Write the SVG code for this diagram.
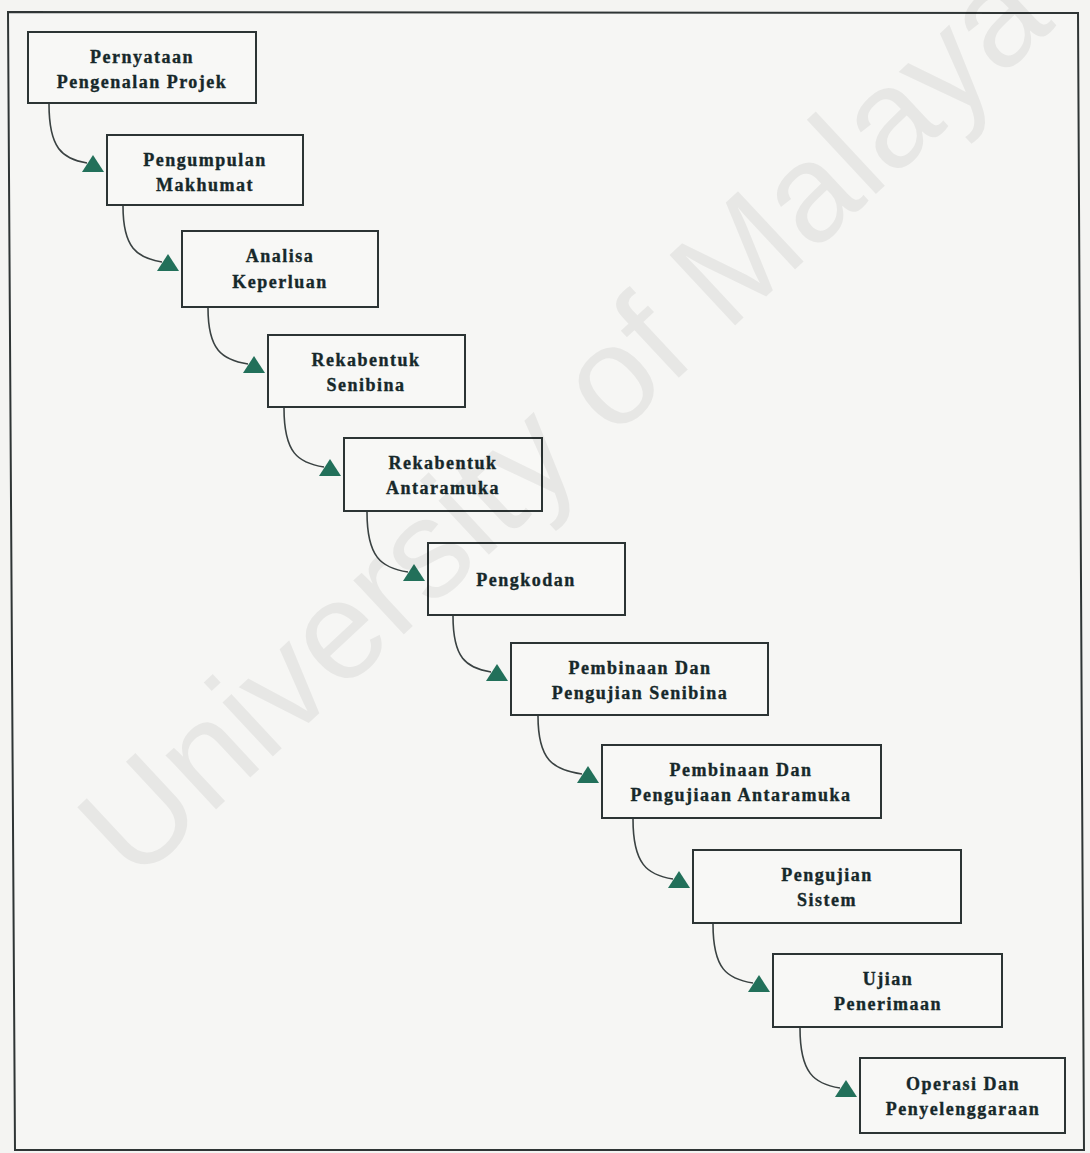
<svg xmlns="http://www.w3.org/2000/svg" width="1090" height="1153" viewBox="0 0 1090 1153">
  <style>
    .box { fill: #f8f8f6; stroke: #2c3434; stroke-width: 2; }
    .lbl { font-family: "Liberation Serif", "Times New Roman", serif; font-weight: bold; font-size: 18px; letter-spacing: 1.5px; fill: #16282a; stroke: #16282a; stroke-width: 0.35; text-anchor: middle; }
    .wire { fill: none; stroke: #3a4242; stroke-width: 1.6; }
    .head { fill: #22705a; }
    .mark { font-family: "Liberation Sans", Arial, sans-serif; font-size: 140px; fill: #000; fill-opacity: 0.06; }
  </style>

  <!-- page and outer frame -->
  <rect x="0" y="0" width="1090" height="1153" fill="#f4f4f2"/>
  <polygon points="8,12 1078,13 1084,1150 15,1150" fill="#f6f6f4" stroke="#2f3535" stroke-width="2"/>

  <!-- process steps -->
  <g id="node-pernyataan">
    <rect class="box" x="28" y="32" width="228" height="71"/>
    <text class="lbl" x="142" y="63">Pernyataan</text>
    <text class="lbl" x="142" y="88">Pengenalan Projek</text>
  </g>
  <g id="node-pengumpulan">
    <rect class="box" x="107" y="135" width="196" height="70"/>
    <text class="lbl" x="205" y="166">Pengumpulan</text>
    <text class="lbl" x="205" y="191">Makhumat</text>
  </g>
  <g id="node-analisa">
    <rect class="box" x="182" y="231" width="196" height="76"/>
    <text class="lbl" x="280" y="262">Analisa</text>
    <text class="lbl" x="280" y="288">Keperluan</text>
  </g>
  <g id="node-rekabentuk-senibina">
    <rect class="box" x="268" y="335" width="197" height="72"/>
    <text class="lbl" x="366" y="366">Rekabentuk</text>
    <text class="lbl" x="366" y="391">Senibina</text>
  </g>
  <g id="node-rekabentuk-antaramuka">
    <rect class="box" x="344" y="438" width="198" height="73"/>
    <text class="lbl" x="443" y="469">Rekabentuk</text>
    <text class="lbl" x="443" y="494">Antaramuka</text>
  </g>
  <g id="node-pengkodan">
    <rect class="box" x="428" y="543" width="197" height="72"/>
    <text class="lbl" x="526" y="586">Pengkodan</text>
  </g>
  <g id="node-pembinaan-senibina">
    <rect class="box" x="511" y="643" width="257" height="72"/>
    <text class="lbl" x="640" y="674">Pembinaan Dan</text>
    <text class="lbl" x="640" y="699">Pengujian Senibina</text>
  </g>
  <g id="node-pembinaan-antaramuka">
    <rect class="box" x="602" y="745" width="279" height="73"/>
    <text class="lbl" x="741" y="776">Pembinaan Dan</text>
    <text class="lbl" x="741" y="801">Pengujiaan Antaramuka</text>
  </g>
  <g id="node-pengujian-sistem">
    <rect class="box" x="693" y="850" width="268" height="73"/>
    <text class="lbl" x="827" y="881">Pengujian</text>
    <text class="lbl" x="827" y="906">Sistem</text>
  </g>
  <g id="node-ujian-penerimaan">
    <rect class="box" x="773" y="954" width="229" height="73"/>
    <text class="lbl" x="888" y="985">Ujian</text>
    <text class="lbl" x="888" y="1010">Penerimaan</text>
  </g>
  <g id="node-operasi">
    <rect class="box" x="860" y="1058" width="205" height="75"/>
    <text class="lbl" x="963" y="1090">Operasi Dan</text>
    <text class="lbl" x="963" y="1115">Penyelenggaraan</text>
  </g>

  <!-- connectors: curved lead-in ending at a triangular head beside each step -->
  <g id="connectors">
    <path class="wire" d="M49,104 C49,148 62,159 87,163"/>
    <path class="wire" d="M123,206 C123,248 137,258 162,262"/>
    <path class="wire" d="M208,308 C208,350 222,360 248,364"/>
    <path class="wire" d="M284,408 C284,453 298,463 324,467"/>
    <path class="wire" d="M367,512 C367,557 381,568 408,572"/>
    <path class="wire" d="M453,616 C453,658 466,668 491,672"/>
    <path class="wire" d="M538,716 C538,760 553,770 582,774"/>
    <path class="wire" d="M633,819 C633,864 647,875 673,879"/>
    <path class="wire" d="M713,924 C713,969 727,979 753,983"/>
    <path class="wire" d="M800,1028 C800,1073 814,1084 840,1088"/>

    <polygon class="head" points="82,172 104,172 93,155"/>
    <polygon class="head" points="157,271 179,271 168,254"/>
    <polygon class="head" points="243,373 265,373 254,356"/>
    <polygon class="head" points="319,476 341,476 330,459"/>
    <polygon class="head" points="403,581 425,581 414,564"/>
    <polygon class="head" points="486,681 508,681 497,664"/>
    <polygon class="head" points="577,783 599,783 588,766"/>
    <polygon class="head" points="668,888 690,888 679,871"/>
    <polygon class="head" points="748,992 770,992 759,975"/>
    <polygon class="head" points="835,1097 857,1097 846,1080"/>
  </g>

  <!-- faint diagonal watermark lettering -->
  <text class="mark" transform="translate(135,885) rotate(-43)">University of Malaya</text>
</svg>
